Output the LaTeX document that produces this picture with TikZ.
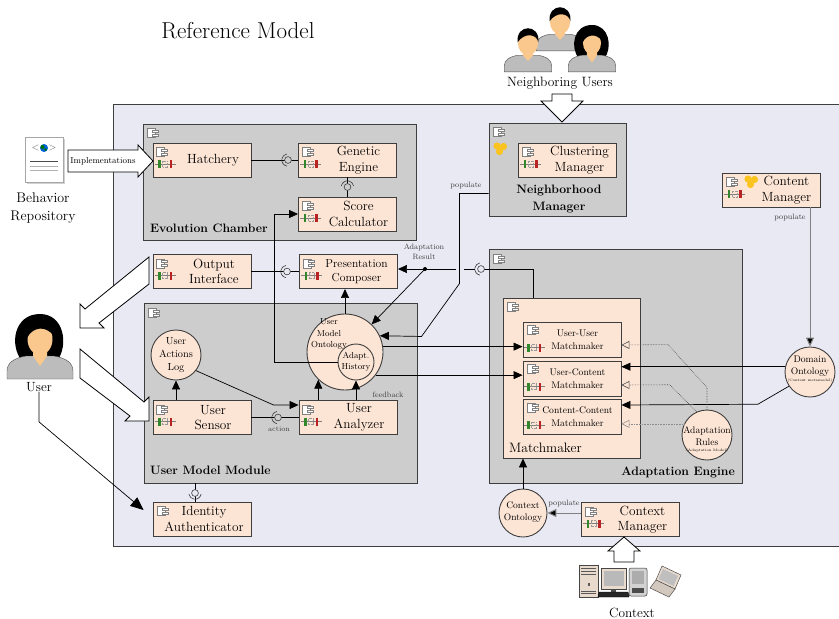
\documentclass[tikz,border=0pt]{standalone}
\usepackage{tikz}
\usetikzlibrary{arrows.meta}

\definecolor{pagebg}{RGB}{232,233,243}
\definecolor{groupgray}{RGB}{205,205,205}
\definecolor{peach}{RGB}{253,229,213}
\definecolor{edge}{RGB}{62,62,62}
\definecolor{portgreen}{RGB}{50,135,45}
\definecolor{portred}{RGB}{185,35,35}
\definecolor{skin}{RGB}{250,200,140}
\definecolor{shirt}{RGB}{188,188,188}
\definecolor{honey}{RGB}{250,195,30}
\definecolor{devbeige}{RGB}{232,218,205}

\tikzset{
  compbox/.style={draw=edge, fill=peach, line width=0.9pt, minimum width=98pt, minimum height=34pt, inner sep=0pt},
  boxtext/.style={font=\fontsize{13.3}{15.5}\selectfont, align=center, inner sep=0pt},
  smalltext/.style={font=\fontsize{9.6}{13}\selectfont, align=center, inner sep=0pt},
  group/.style={draw=edge, fill=groupgray, line width=0.9pt, inner sep=0pt},
  grouplabel/.style={font=\bfseries\fontsize{12.2}{17}\selectfont, align=center, inner sep=0pt},
  ont/.style={circle, draw=edge, fill=peach, line width=0.9pt, inner sep=0pt},
  onttext/.style={font=\fontsize{9.6}{12}\selectfont, align=center, inner sep=0pt},
  tinytext/.style={font=\fontsize{3.5}{4}\selectfont, inner sep=0pt},
  note/.style={font=\fontsize{7.7}{9.5}\selectfont, text=black!75, align=center, inner sep=0pt},
  link/.style={draw=black, line width=0.7pt},
  arr/.style={link, -{Triangle[length=9pt, width=8pt]}},
  graylink/.style={draw=black!50, line width=1pt, -{Triangle[length=9pt, width=8pt, fill=black]}},
  rulelink/.style={draw=black!70, line width=0.6pt, densely dotted, -{Triangle[open, length=8pt, width=8pt]}},
  blockarrow/.style={draw=black, fill=white, line width=0.8pt, line join=miter},
}

% 组件图标
\newcommand{\compicon}[2]{%
  \begin{scope}[shift={(#1)}, shift={(#2)}]
    \filldraw[fill=white, draw=gray, line width=0.4pt] (0,0) rectangle (8,9);
    \filldraw[fill=white, draw=gray, line width=0.4pt] (5,1.5) rectangle (11,3.6);
    \filldraw[fill=white, draw=gray, line width=0.4pt] (5,5.4) rectangle (11,7.5);
  \end{scope}}

% 端口图标
\newcommand{\porticon}[2]{%
  \begin{scope}[shift={(#1)}, shift={(#2)}]
    \draw[gray, line width=0.5pt] (0,0) -- (21,0);
    \fill[portgreen] (3.5,-4) rectangle (6,4);
    \fill[portred] (15,-4) rectangle (17.5,4);
    \draw[gray!80, line width=0.35pt, densely dotted] (8,-3) rectangle (13,3);
  \end{scope}}

% 聚类图标
\newcommand{\honeycomb}[1]{%
  \begin{scope}[shift={(#1)}]
    \fill[honey] (0,0) circle[radius=3.6] (6.5,0.5) circle[radius=3.6] (2.5,5.5) circle[radius=3.6];
  \end{scope}}

% 球窝接口: 位置, 开口方向, 底色
\newcommand{\lolli}[3]{%
  \pgfmathsetmacro\sockfrom{#2-80}%
  \pgfmathsetmacro\sockto{#2+80}%
  \fill[#3] (#1) circle[radius=3.4];
  \draw[edge, line width=0.6pt] (#1) circle[radius=3.4];
  \draw[edge, line width=0.6pt] ([shift={(\sockfrom:6.2)}]#1) arc[start angle=\sockfrom, end angle=\sockto, radius=6.2];}

% 组件框: [文字选项] 名称, 中心, 文字
\newcommand{\compbox}[4][xshift=11pt]{%
  \node[compbox] (#2) at (#3) {};
  \node[boxtext, #1] (#2-t) at (#2.center) {#4};
  \compicon{#2.north west}{4,5}
  \porticon{#2.west}{2,4}}

% 匹配器小框
\newcommand{\matchbox}[3]{%
  \node[compbox, minimum height=35pt] (#1) at (#2) {};
  \node[smalltext, xshift=5.5pt] (#1-t) at (#1.center) {#3};
  \compicon{#1.north west}{5,4}
  \porticon{#1.west}{1,8}}

% 人像
\newcommand{\manicon}[2]{%
  \begin{scope}[shift={(#1)}, scale=#2]
    \filldraw[fill=shirt, draw=gray!60!black, line width=0.4pt] (-33,40) -- (-33,32) .. controls (-33,24) and (-26,19) .. (-14,17) -- (14,17) .. controls (26,19) and (33,24) .. (33,32) -- (33,40) -- cycle;
    \fill[skin] (-7,8) -- (7,8) -- (7,17) -- (0,25) -- (-7,17) -- cycle;
    \fill[skin] (0,0) ellipse (14 and 17);
    \fill[black] (-14.5,-1) .. controls (-17,-27) and (17,-27) .. (14.5,-1) .. controls (12,-13) and (-5,-15) .. (-14.5,-1) -- cycle;
  \end{scope}}
\newcommand{\womanicon}[2]{%
  \begin{scope}[shift={(#1)}, scale=#2]
    \fill[black] (-18,22) .. controls (-31,6) and (-26,-25) .. (0,-25) .. controls (24,-25) and (29,6) .. (17,22) -- cycle;
    \filldraw[fill=shirt, draw=gray!60!black, line width=0.4pt] (-33,40) -- (-33,32) .. controls (-33,24) and (-26,19) .. (-14,17) -- (14,17) .. controls (26,19) and (33,24) .. (33,32) -- (33,40) -- cycle;
    \fill[skin] (-7,8) -- (7,8) -- (7,17) -- (0,27) -- (-7,17) -- cycle;
    \fill[skin] (0,0) ellipse (12.5 and 16);
    \fill[black] (-13,-1) .. controls (-15,-22) and (14,-24) .. (13,-4) .. controls (6,-13) and (-7,-13) .. (-13,-1) -- cycle;
  \end{scope}}

\begin{document}
\begin{tikzpicture}[x=1pt, y=-1pt]
  \useasboundingbox (0,0) rectangle (839,619);

  % 1. 标题与外框
  \node[font=\fontsize{23}{27}\selectfont, inner sep=0pt] (title) at (238,31) {Reference Model};
  \node[draw=edge, fill=pagebg, line width=0.9pt, minimum width=728pt, minimum height=442pt, inner sep=0pt] (main) at (477,325) {};

  % 2. 演化室
  \node[group, minimum width=273pt, minimum height=116pt] (evo) at (279.5,182) {};
  \compicon{evo.north west}{5,5}
  \node[grouplabel, anchor=west] (evo-l) at (150,228) {Evolution Chamber};
  \compbox{hatchery}{202,160}{Hatchery}
  \compbox{genetic}{347.5,160}{Genetic\\Engine}
  \compbox{score}{347.5,214}{Score\\Calculator}

  % 3. 邻域管理器
  \node[group, minimum width=137pt, minimum height=93pt] (nbh) at (557.5,169.5) {};
  \compicon{nbh.north west}{5,5}
  \honeycomb{497,146}
  \compbox[xshift=12pt]{clustering}{567.5,160}{Clustering\\Manager}
  \node[grouplabel] (nbh-l) at (559,199) {Neighborhood\\Manager};

  % 4. 内容管理器
  \compbox[xshift=15pt]{content}{771.5,190}{Content\\Manager}
  \honeycomb{748,179}

  % 5. 输出与呈现
  \compbox[xshift=12pt]{output}{202,271.5}{Output\\Interface}
  \compbox[xshift=8pt, font=\fontsize{11.6}{14.5}\selectfont]{presentation}{348.5,271.5}{Presentation\\Composer}

  % 6. 用户模型模块
  \node[group, minimum width=273pt, minimum height=180pt] (umm) at (280.5,393) {};
  \compicon{umm.north west}{5,6}
  \node[grouplabel, anchor=west] (umm-l) at (150,470) {User Model Module};
  \compbox{sensor}{202,417.5}{User\\Sensor}
  \compbox{analyzer}{348,417.5}{User\\Analyzer}
  \node[ont, minimum size=50pt] (log) at (176,355) {};
  \node[onttext, font=\fontsize{10.3}{13}\selectfont] (log-t) at (176,355) {User\\Actions\\Log};
  \node[ont, minimum size=76pt] (umo) at (345,352) {};
  \node[onttext, font=\fontsize{8.7}{11.5}\selectfont] (umo-t) at (329,334) {User\\Model\\Ontology};
  \node[ont, minimum size=36pt] (hist) at (356,362) {};
  \node[onttext, font=\fontsize{8.7}{10.5}\selectfont] (hist-t) at (356,362) {Adapt.\\History};

  % 7. 身份认证
  \node[compbox] (auth) at (202,519) {};
  \compicon{auth.north west}{5,5}
  \node[boxtext] (auth-t) at (204,519) {Identity\\Authenticator};

  % 8. 适配引擎
  \node[group, minimum width=253pt, minimum height=234pt] (ae) at (615.5,366) {};
  \compicon{ae.north west}{5,6}
  \node[grouplabel, anchor=east] (ae-l) at (735,472) {Adaptation Engine};
  \node[compbox, minimum width=137pt, minimum height=160pt] (mm) at (571.5,378) {};
  \compicon{mm.north west}{5,5}
  \node[boxtext, font=\fontsize{13.6}{16}\selectfont, anchor=west] (mm-l) at (509,448) {Matchmaker};
  \matchbox{uu}{572,339.5}{User-User\\Matchmaker}
  \matchbox{ucm}{572,378.5}{User-Content\\Matchmaker}
  \matchbox{cc}{572,417}{Content-Content\\Matchmaker}
  \node[ont, minimum size=50pt] (rules) at (707,435) {};
  \node[onttext] (rules-t) at (707,436.5) {Adaptation\\Rules};
  \node[tinytext] (rules-s) at (707,451) {(Adaptation Model)};

  % 9. 本体
  \node[ont, minimum size=50pt] (do) at (810,372) {};
  \node[onttext] (do-t) at (810,366) {Domain\\Ontology};
  \node[tinytext] (do-s) at (810,380.5) {(Content metamodel)};
  \node[ont, minimum size=48pt] (co) at (523,513) {};
  \node[onttext, font=\fontsize{9.5}{12}\selectfont] (co-t) at (523,512) {Context\\Ontology};
  \compbox[xshift=12pt]{ctxm}{630.5,519.5}{Context\\Manager}

  % 10. 演化室连线
  \draw[link] (hatchery) -- (genetic);
  \lolli{288,160}{180}{groupgray}
  \draw[link] (genetic) -- (score);
  \lolli{347.5,187}{270}{groupgray}
  \draw[arr] (hist.west) -- ++(-63,0) |- (score.west);

  % 11. 呈现连线
  \draw[link] (output) -- (presentation);
  \lolli{287,271.5}{180}{pagebg}
  \draw[arr] ([yshift=23pt]nbh.south west) -- ++(-29,0) -- ++(0,90) -- ++(-38,53) -- (umo.25);
  \node[note] (nbh-pop) at (466,186) {populate};
  \coordinate (ar) at (425,269);
  \coordinate (sock) at (481,269);
  \draw[link] ([xshift=-38.5pt]mm.north) |- (sock);
  \draw[link] (474.8,269) -- (464,269);
  \draw[arr] (456,269) -- (ar -| presentation.east);
  \fill (ar) circle[radius=2];
  \draw[arr] (ar) -- (umo);
  \lolli{481,269}{180}{pagebg}
  \node[note] (ar-l) at (424,252) {Adaptation\\Result};
  \draw[arr] (umo.north) -- (umo.north |- presentation.south);

  % 12. 用户模型连线
  \draw[arr] (log |- sensor.north) -- (log.south);
  \draw[arr] (log.-38) -- ([xshift=-25pt, yshift=12.5pt]analyzer.west) -- ([yshift=12.5pt]analyzer.west);
  \draw[link] (sensor) -- (analyzer);
  \lolli{278,417.5}{180}{groupgray}
  \node[note, font=\fontsize{7.2}{9}\selectfont] (act) at (279,429.5) {action};
  \draw[arr] (umo.226 |- analyzer.north) -- (umo.226);
  \draw[arr] (hist.south |- analyzer.north) -- (hist.south);
  \node[note] (fb) at (388,395) {feedback};
  \draw[link] ([xshift=-7pt]auth.north) -- ([xshift=-7pt]auth.north |- umm.south);
  \lolli{195,493}{90}{pagebg}

  % 13. 匹配器连线
  \draw[arr] (umo.8) -- (umo.8 -| uu.west);
  \draw[arr] (umo.-37) -- (umo.-37 -| ucm.west);
  \draw[arr] (do.168) -- (do.168 -| ucm.east);
  \draw[arr] (do.214) -- ++(-31,18) -- ([yshift=12pt]cc.east);
  \draw[rulelink] (rules.north) -- ++(0,-22) -- ++(-39,-43) -- ([yshift=-5.5pt]uu.east);
  \draw[rulelink] (rules.114) -- ++(-27,-27) -- ([yshift=-6.5pt]ucm.east);
  \draw[rulelink, draw=black!45] (rules.154) -- (rules.154 -| cc.east);
  \draw[graylink] (do |- content.south) -- (do.north);
  \node[note] (cm-pop) at (790,218) {populate};
  \draw[arr] (co.north) -- (co.north |- mm.south);
  \draw[graylink] (co.east -| ctxm.west) -- (co.east);
  \node[note] (ctx-pop) at (564,503.5) {populate};

  % 14. 行为仓库
  \begin{scope}[shift={(25,137)}]
    \fill[gray!35] (1.5,1.5) rectangle (39.5,46.5);
    \filldraw[fill=white, draw=gray!70, line width=0.5pt] (0,0) rectangle (38,45);
    \node[font=\fontsize{10}{10}\selectfont, text=gray!70!black, inner sep=0pt] (repo-code) at (19,11) {<\hspace{9pt}>};
    \fill[blue!55!cyan!85!black] (19,11) circle[radius=4];
    \fill[green!45!black] (17.5,10) circle[radius=2] (20.6,12.6) circle[radius=1.3];
    \draw[gray!60!black, line width=0.6pt] (5,24) -- (33,24);
    \draw[gray!60, line width=0.5pt] (5,29) -- (33,29) (5,33) -- (33,33);
  \end{scope}
  \node[boxtext, font=\fontsize{14}{18}\selectfont] (repo) at (43,208) {Behavior\\Repository};
  \draw[blockarrow] (68,150) -- (138,150) -- (138,145) -- (153,161) -- (138,177) -- (138,172) -- (68,172) -- cycle;
  \node[note, font=\fontsize{8.7}{10}\selectfont, text=black] (impl) at (103,161) {Implementations};

  % 15. 用户
  \womanicon{40,339}{1}
  \node[boxtext] (user) at (39,387) {User};
  \draw[link, -{Triangle[length=13pt, width=11pt]}] (user.south) -- ++(0,30) -- ([xshift=-9pt, yshift=9pt]auth.west);
  \draw[blockarrow] (149,257) -- (85,309) -- (80,304) -- (80,328) -- (104,328) -- (99,323) -- (149,284) -- cycle;
  \draw[blockarrow] (80,349) -- (144,402) -- (149,397) -- (149,421) -- (125,421) -- (130,416) -- (80,378) -- cycle;

  % 16. 邻近用户
  \manicon{560,22}{0.72}
  \manicon{528,43}{0.72}
  \womanicon{592,43}{0.72}
  \node[boxtext, font=\fontsize{13.5}{16}\selectfont] (nusers) at (560,83) {Neighboring Users};
  \draw[blockarrow] (552,94) -- (572,94) -- (572,101) -- (583,101) -- (562,122) -- (541,101) -- (552,101) -- cycle;

  % 17. 情境设备
  \draw[blockarrow] (614,562) -- (614,551) -- (608,551) -- (624,537) -- (640,551) -- (634,551) -- (634,562) -- cycle;
  \begin{scope}[shift={(579,565)}]
    \filldraw[fill=devbeige, draw=gray!55!black, line width=0.5pt] (0,0) rectangle (19,32);
    \draw[gray!70!black, line width=0.4pt] (2,3) -- (17,3) (2,6) -- (17,6) (2,9) -- (17,9);
    \fill[gray!70!black] (8.5,18) rectangle (10.5,21);
    \draw[gray!70!black, line width=0.4pt] (2,26) -- (17,26) (2,28.5) -- (17,28.5);
  \end{scope}
  \begin{scope}[shift={(600,568)}]
    \filldraw[fill=devbeige, draw=gray!55!black, line width=0.5pt] (1,0) rectangle (26,21);
    \fill[gray!55] (3.5,2.5) rectangle (23.5,18);
    \fill[gray!60!black] (11,21) rectangle (16,24);
    \filldraw[fill=gray!30!black, draw=black, line width=0.4pt] (-1,24) -- (28,24) -- (29,29) -- (-2,29) -- cycle;
  \end{scope}
  \begin{scope}[shift={(629,568)}]
    \filldraw[fill=gray!35, draw=black!80, line width=0.5pt, rounded corners=2pt] (0,0) rectangle (18,28);
    \fill[gray!65] (3,3) rectangle (15,16);
    \fill[black!70] (3,20) rectangle (15,25);
  \end{scope}
  \begin{scope}[shift={(650,566)}]
    \filldraw[fill=devbeige, draw=black!70, line width=0.5pt] (12,0) -- (31,9) -- (25,23) -- (6,14) -- cycle;
    \fill[gray!50] (13,3) -- (28,10) -- (23.5,20) -- (8.5,13) -- cycle;
    \filldraw[fill=devbeige!80!gray, draw=black!70, line width=0.5pt] (6,14) -- (25,23) -- (19,31) -- (0,22) -- cycle;
  \end{scope}
  \node[boxtext] (ctx) at (632,613) {Context};
\end{tikzpicture}
\end{document}
